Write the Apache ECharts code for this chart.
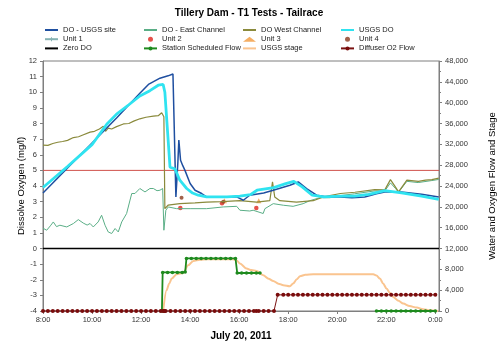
<!DOCTYPE html>
<html><head><meta charset="utf-8">
<script src="https://cdn.jsdelivr.net/npm/echarts@6/dist/echarts.min.js"></script>
<style>html,body{margin:0;padding:0;background:#fff}#c{width:498px;height:362px}</style>
</head><body><div id="c"></div>
<script>
// time in decimal hours (24 = 0:00 next day)
const xTicks = [8,10,12,14,16,18,20,22,24];
const doUsgsSite = [[8,3.55],[9,5.15],[10,6.75],[11,8.35],[11.95,9.93],[12.3,10.5],[12.77,10.9],[13.1,11.05],[13.3,11.17],[13.36,11.1],[13.42,3.3],[13.5,5.5],[13.54,6.94],[13.61,5.65],[13.7,5.3],[13.79,5.0],[14.0,4.16],[14.2,3.73],[14.47,3.52],[14.67,3.3],[15.2,3.3],[15.9,3.3],[16.17,3.09],[16.43,3.41],[17.0,3.55],[17.39,3.73],[18.07,4.05],[18.41,4.26],[18.75,3.83],[19.16,3.41],[19.6,3.3],[20.13,3.3],[20.6,3.25],[21.12,3.3],[21.6,3.5],[21.94,3.62],[22.62,3.62],[23.44,3.47],[24.14,3.3]];
const doEastChannel = [[8,1.3],[8.15,1.17],[8.3,1.45],[8.42,1.7],[8.55,1.4],[8.69,1.49],[8.97,1.38],[9.24,1.6],[9.44,1.85],[9.64,1.63],[9.8,1.5],[9.92,1.6],[10.05,1.38],[10.25,1.7],[10.39,2.13],[10.53,1.49],[10.66,1.06],[10.8,0.96],[10.94,1.28],[11.07,1.06],[11.21,1.7],[11.41,2.24],[11.55,3.1],[11.62,3.52],[11.75,3.52],[11.95,3.84],[12.16,3.62],[12.36,3.84],[12.5,3.84],[12.65,3.7],[12.77,3.73],[12.88,3.84],[12.93,1.17],[13.01,2.45],[13.11,2.66],[13.45,2.55],[14.0,2.55],[14.67,2.55],[15.35,2.66],[15.9,2.7],[16.03,2.45],[16.43,2.4],[16.57,2.45],[16.98,2.24],[17.05,2.55],[17.39,2.87],[17.8,2.77],[18.2,2.7],[18.61,2.87],[18.88,3.06],[19.29,3.25],[19.7,3.25],[20.1,3.38],[20.7,3.5],[21.5,3.68],[21.94,3.68],[22.17,4.2],[22.37,3.85],[22.5,3.6],[22.84,4.3],[23.3,4.22],[23.86,4.35],[24.14,4.42]];
const doWestChannel = [[8,6.62],[8.2,6.6],[8.4,6.72],[8.6,6.8],[8.8,6.85],[9,6.92],[9.24,7.1],[9.45,7.15],[9.6,7.25],[9.92,7.45],[10.1,7.5],[10.3,7.65],[10.46,7.83],[10.55,7.5],[10.66,7.7],[10.8,7.65],[11.0,7.8],[11.28,7.97],[11.5,8.0],[11.7,8.15],[11.95,8.3],[12.2,8.4],[12.5,8.47],[12.7,8.5],[12.84,8.69],[12.93,8.43],[12.97,2.55],[13.1,2.77],[13.58,2.87],[14.2,2.92],[14.67,2.97],[15.3,3.0],[16.03,3.06],[16.71,2.97],[17.25,3.06],[17.36,4.26],[17.45,3.3],[17.66,3.06],[18.34,2.97],[19.02,3.06],[19.43,3.3],[20.13,3.52],[20.72,3.6],[21.53,3.77],[21.94,3.75],[22.17,4.41],[22.37,3.94],[22.5,3.62],[22.84,4.37],[23.31,4.3],[23.6,4.38],[23.86,4.41],[24.14,4.5]];
const usgsDO = [[8,3.9],[9,5.25],[10,6.65],[10.6,7.95],[11,8.6],[11.5,9.2],[11.95,9.76],[12.36,10.1],[12.7,10.45],[12.9,10.5],[12.97,10.0],[13.18,5.2],[13.38,5.1],[13.58,4.37],[13.86,3.84],[14.1,3.55],[14.33,3.41],[14.67,3.3],[15.5,3.3],[16.03,3.35],[16.46,3.45],[16.73,3.73],[17.41,3.9],[17.9,4.15],[18.23,4.3],[18.57,3.94],[18.98,3.41],[19.45,3.3],[20.13,3.35],[20.7,3.35],[21.28,3.47],[21.94,3.7],[22.62,3.56],[23.44,3.35],[24.14,3.15]];
const unit1 = [];
const unit2 = [[13.6,2.6],[15.3,2.9],[16.7,2.6]];
const unit3 = [[15.4,3.05],[16.8,3.05]];
const unit4 = [[13.65,3.25],[15.35,3.0]];
const zeroDO = [[8,0],[24.15,0]];
const thresholdDO = [[8,5],[24.15,5]];
const stationFlow = [[12.85,0],[12.88,7400],[13.08,7400],[13.28,7400],[13.48,7400],[13.68,7400],[13.8,7500],[13.85,10100],[14.05,10100],[14.25,10100],[14.45,10100],[14.65,10100],[14.85,10100],[15.05,10100],[15.25,10100],[15.45,10100],[15.65,10100],[15.85,10100],[15.92,7300],[16.1,7300],[16.3,7300],[16.5,7300],[16.7,7300],[16.85,7300],[null,null],[21.6,0],[21.8,0],[22.0,0],[22.2,0],[22.4,0],[22.6,0],[22.8,0],[23.0,0],[23.2,0],[23.4,0],[23.6,0],[23.8,0],[24.0,0]];
const usgsStage = [[12.9,0],[13.04,3980],[13.15,5300],[13.25,6230],[13.45,7060],[13.72,7300],[13.92,8790],[14.13,9620],[14.4,9850],[14.67,9940],[15.2,9940],[15.76,9940],[15.9,9700],[16.03,9110],[16.3,8150],[16.5,7850],[16.71,7700],[16.98,6870],[17.2,6200],[17.39,5770],[17.6,5250],[17.8,4940],[18.07,4750],[18.2,5270],[18.35,6100],[18.48,6670],[18.7,6950],[19.02,7060],[20.11,7060],[21.0,7060],[21.47,7060],[21.6,6800],[21.74,6230],[21.87,5300],[22.01,4300],[22.15,3450],[22.28,2700],[22.5,1950],[22.69,1420],[22.95,950],[23.24,650],[23.5,350],[23.78,130],[24.12,0]];
const diffuserFlow = [[8.0,0],[8.2,0],[8.4,0],[8.6,0],[8.8,0],[9.0,0],[9.2,0],[9.4,0],[9.6,0],[9.8,0],[10.0,0],[10.2,0],[10.4,0],[10.6,0],[10.8,0],[11.0,0],[11.2,0],[11.4,0],[11.6,0],[11.8,0],[12.0,0],[12.2,0],[12.4,0],[12.6,0],[12.8,0],[12.9,0],[12.95,0],[13.0,0],[13.2,0],[13.4,0],[13.6,0],[13.8,0],[14.0,0],[14.2,0],[14.4,0],[14.6,0],[14.8,0],[15.0,0],[15.2,0],[15.4,0],[15.6,0],[15.8,0],[16.0,0],[16.2,0],[16.4,0],[16.6,0],[16.7,0],[16.8,0],[17.0,0],[17.2,0],[17.42,0],[17.57,3100],[17.8,3100],[18.0,3100],[18.2,3100],[18.4,3100],[18.6,3100],[18.8,3100],[19.0,3100],[19.2,3100],[19.4,3100],[19.6,3100],[19.8,3100],[20.0,3100],[20.2,3100],[20.4,3100],[20.6,3100],[20.8,3100],[21.0,3100],[21.2,3100],[21.4,3100],[21.6,3100],[21.8,3100],[22.0,3100],[22.2,3100],[22.4,3100],[22.6,3100],[22.8,3100],[23.0,3100],[23.2,3100],[23.4,3100],[23.6,3100],[23.8,3100],[24.0,3100]];

const chart = echarts.init(document.getElementById('c'), null, {renderer:'canvas'});
const FONT = 'Liberation Sans';
const legendBase = {orient:'vertical', top:26, itemWidth:13, itemHeight:5, itemGap:1.2,
  textStyle:{fontSize:7.5, color:'#222', fontFamily:FONT}, padding:0, selectedMode:false};
const noSym = n => ({name:n, itemStyle:{opacity:0}});
const plusPath = 'path://M3,0H5V3H8V5H5V8H3V5H0V3H3Z';
function fmtHour(v){
  const r = Math.round(v);
  if (Math.abs(v-r) > 1e-6 || r % 2) return '';
  return (r % 24) + ':00';
}
chart.setOption({
  animation:false,
  textStyle:{fontFamily:FONT},
  title:{text:'Tillery Dam - T1 Tests - Tailrace', left:'center', top:3,
    textStyle:{fontSize:10, fontWeight:'bold', color:'#000', fontFamily:FONT}},
  legend:[
    Object.assign({left:44, data:[noSym('DO - USGS site'),'Unit 1',noSym('Zero DO')]}, legendBase),
    Object.assign({left:143, data:[noSym('DO - East Channel'),'Unit 2','Station Scheduled Flow']}, legendBase),
    Object.assign({left:242, data:[noSym('DO West Channel'),'Unit 3',noSym('USGS stage')]}, legendBase),
    Object.assign({left:340, data:[noSym('USGS DO'),'Unit 4','Diffuser O2 Flow']}, legendBase)
  ],
  grid:{left:43, right:59, top:61, bottom:51, show:true, borderColor:'#7f7f7f', borderWidth:1,
    backgroundColor:'transparent', containLabel:false, outerBoundsMode:'none'},
  xAxis:{type:'value', min:8, max:24.15, interval:2,
    axisLine:{onZero:false, lineStyle:{color:'#7f7f7f'}},
    axisTick:{show:true, length:3, lineStyle:{color:'#7f7f7f'}},
    splitLine:{show:false},
    axisLabel:{formatter:fmtHour, fontSize:7.5, color:'#333', margin:5, showMaxLabel:false},
    name:'July 20, 2011', nameLocation:'middle', nameGap:20, nameMoveOverlap:false,
    nameTextStyle:{fontSize:10, fontWeight:'bold', color:'#000', fontFamily:FONT}},
  yAxis:[
    {type:'value', min:-4, max:12, interval:1,
      axisLine:{show:true, lineStyle:{color:'#7f7f7f'}},
      axisTick:{show:true, length:3, lineStyle:{color:'#7f7f7f'}},
      splitLine:{show:false},
      axisLabel:{fontSize:7.5, color:'#333', margin:6},
      name:'Dissolve Oxygen (mg/l)', nameLocation:'middle', nameGap:17, nameMoveOverlap:false,
      nameTextStyle:{fontSize:9.5, color:'#000', fontFamily:FONT}},
    {type:'value', min:0, max:48000, interval:4000, position:'right',
      axisLine:{show:true, lineStyle:{color:'#7f7f7f'}},
      axisTick:{show:true, length:3, lineStyle:{color:'#7f7f7f'}},
      minorTick:{show:true, splitNumber:2, length:2, lineStyle:{color:'#7f7f7f'}},
      splitLine:{show:false},
      axisLabel:{fontSize:7.5, color:'#333', margin:6, formatter:v=>v.toLocaleString('en-US')},
      name:'Water and Oxygen Flow and Stage', nameLocation:'middle', nameGap:48, nameRotate:90, nameMoveOverlap:false,
      nameTextStyle:{fontSize:9.5, color:'#000', fontFamily:FONT}}
  ],
  series:[
    {name:'threshold', type:'line', data:thresholdDO, symbol:'none', silent:true,
      lineStyle:{color:'#d0504a', width:1}, itemStyle:{color:'#d0504a'}},
    {name:'DO - East Channel', type:'line', data:doEastChannel, symbol:'none',
      lineStyle:{color:'#5aae86', width:1}, itemStyle:{color:'#5aae86'}},
    {name:'DO West Channel', type:'line', data:doWestChannel, symbol:'none',
      lineStyle:{color:'#8a8a3c', width:1.2}, itemStyle:{color:'#8a8a3c'}},
    {name:'DO - USGS site', type:'line', data:doUsgsSite, symbol:'none',
      lineStyle:{color:'#1f4fa0', width:1.5}, itemStyle:{color:'#1f4fa0'}},
    {name:'USGS DO', type:'line', data:usgsDO, symbol:'none',
      lineStyle:{color:'#2fe3f0', width:2.8}, itemStyle:{color:'#2fe3f0'}},
    {name:'Unit 1', type:'line', data:unit1, symbol:plusPath, symbolSize:5,
      lineStyle:{color:'#86b3b3', width:1}, itemStyle:{color:'#86b3b3'}},
    {name:'Unit 2', type:'scatter', data:unit2, symbol:'circle', symbolSize:4.5,
      itemStyle:{color:'#e0261e'}},
    {name:'Unit 3', type:'scatter', data:unit3, symbol:'triangle', symbolSize:5,
      itemStyle:{color:'#f39a3c'}},
    {name:'Unit 4', type:'scatter', data:unit4, symbol:'circle', symbolSize:4,
      itemStyle:{color:'#8b3a1e'}},
    {name:'Zero DO', type:'line', data:zeroDO, symbol:'none',
      lineStyle:{color:'#000', width:1.6}, itemStyle:{color:'#000'}},
    {name:'USGS stage', type:'line', yAxisIndex:1, data:usgsStage, symbol:'none', smooth:0.3, smoothMonotone:'x',
      lineStyle:{color:'#fac48f', width:2}, itemStyle:{color:'#fac48f'}},
    {name:'Station Scheduled Flow', type:'line', yAxisIndex:1, data:stationFlow, symbol:'circle', symbolSize:3.5, showSymbol:true,
      connectNulls:false, lineStyle:{color:'#1e8a1e', width:1.8}, itemStyle:{color:'#1e8a1e'}},
    {name:'Diffuser O2 Flow', type:'line', yAxisIndex:1, data:diffuserFlow, symbol:'circle', symbolSize:4, showSymbol:true,
      lineStyle:{color:'#7a1212', width:1}, itemStyle:{color:'#7a0c0c'}}
  ]
});
</script></body></html>
